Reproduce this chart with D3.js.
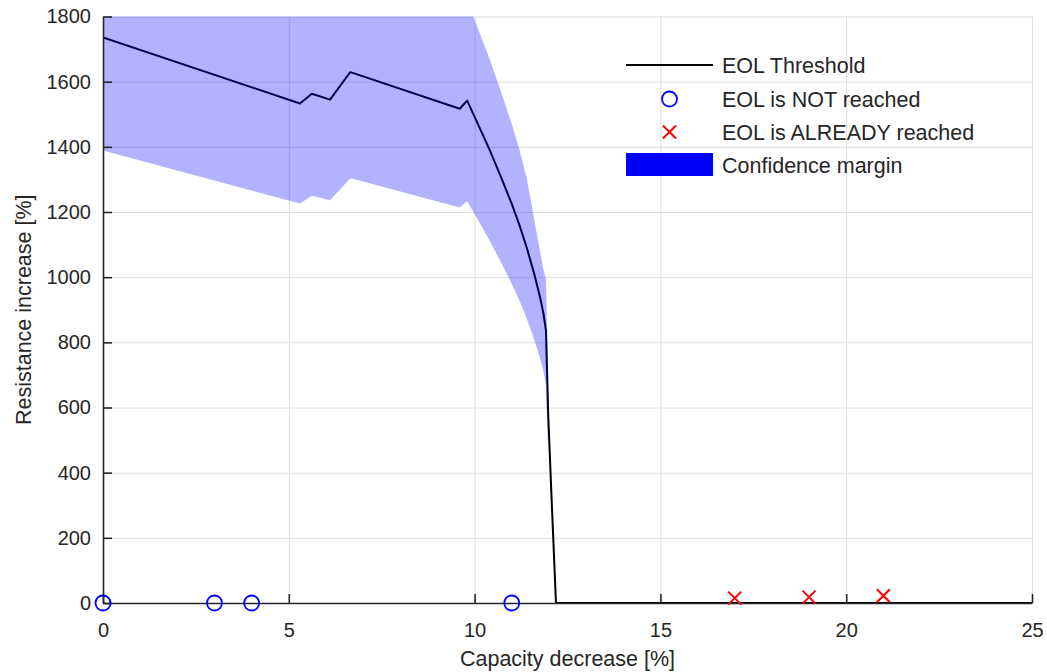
<!DOCTYPE html>
<html>
<head>
<meta charset="utf-8">
<script src="https://cdn.jsdelivr.net/npm/d3@7"></script>
<style>
  body { margin: 0; background: #fff; }
  svg { font-family: "Liberation Sans", Arial, Helvetica, sans-serif; }
</style>
</head>
<body>
<div id="chart"></div>
<script>
// EOL threshold curve
const capacity = [0, 5.3, 5.62, 6.11, 6.65, 6.72, 9.6, 9.8, 10.0, 10.2, 10.41, 10.7, 11.0, 11.2, 11.4, 11.6, 11.76, 11.85, 11.92, 11.98, 12.07, 12.19, 25];
const threshold = [1736, 1533, 1563, 1545, 1629, 1627, 1517, 1542, 1492, 1442, 1389, 1310, 1225, 1162, 1092, 1012, 939, 890, 837, 581, 325, 0, 0];

// confidence band
const bandX = [0, 5.3, 5.62, 6.11, 6.65, 6.72, 9.6, 9.8, 10.0, 10.2, 10.41, 10.7, 11.0, 11.2, 11.4, 11.6, 11.76, 11.85, 11.92, 11.98];
const bandLower = [1389, 1226, 1250, 1236, 1303, 1302, 1214, 1234, 1194, 1154, 1111, 1048, 980, 930, 874, 810, 751, 712, 670, 465];
const bandUpper = [2083, 1840, 1876, 1854, 1955, 1952, 1820, 1850, 1790, 1730, 1667, 1572, 1470, 1394, 1305, 1180, 1080, 1025, 995, 697];

// test points
const notReachedX = [0, 3, 4, 11];
const notReachedY = [0, 0, 0, 0];
const reachedX = [17, 19, 21];
const reachedY = [15, 18, 22];

const xTicks = [0, 5, 10, 15, 20, 25];
const yTicks = [0, 200, 400, 600, 800, 1000, 1200, 1400, 1600, 1800];

const legendLabels = ["EOL Threshold", "EOL is NOT reached", "EOL is ALREADY reached", "Confidence margin"];

const width = 1047, height = 672;
const margin = { top: 16.5, right: 15, bottom: 69, left: 103 };
const axisColor = "#262626";
const font = "'Liberation Sans', Arial, Helvetica, sans-serif";

const svg = d3.select("#chart").append("svg")
  .attr("width", width)
  .attr("height", height);

const x = d3.scaleLinear().domain([0, 25]).range([margin.left, width - margin.right]);
const y = d3.scaleLinear().domain([0, 1800]).range([height - margin.bottom, margin.top]);

svg.append("defs").append("clipPath").attr("id", "plot-clip")
  .append("rect")
  .attr("x", margin.left).attr("y", margin.top)
  .attr("width", x(25) - x(0)).attr("height", y(0) - y(1800));

// grid
svg.append("g")
  .attr("transform", `translate(0,${y(0)})`)
  .call(d3.axisBottom(x).tickValues(xTicks).tickSize(-(y(0) - y(1800))).tickFormat(""))
  .call(g => g.select(".domain").remove())
  .call(g => g.selectAll("line").attr("stroke", "#dedede").attr("stroke-width", 1));

svg.append("g")
  .attr("transform", `translate(${x(0)},0)`)
  .call(d3.axisLeft(y).tickValues(yTicks).tickSize(-(x(25) - x(0))).tickFormat(""))
  .call(g => g.select(".domain").remove())
  .call(g => g.selectAll("line").attr("stroke", "#dedede").attr("stroke-width", 1));

const plot = svg.append("g").attr("clip-path", "url(#plot-clip)");

// threshold line
const lineData = capacity.map((c, i) => [c, threshold[i]]);
plot.append("path")
  .datum(lineData)
  .attr("fill", "none")
  .attr("stroke", "#000")
  .attr("stroke-width", 2)
  .attr("stroke-linejoin", "round")
  .attr("d", d3.line().x(d => x(d[0])).y(d => y(d[1])));

// confidence band (drawn over line, semi-transparent)
const bandData = bandX.map((c, i) => ({ x: c, lo: bandLower[i], hi: bandUpper[i] }));
plot.append("path")
  .datum(bandData)
  .attr("fill", "#0000ff")
  .attr("fill-opacity", 0.3)
  .attr("d", d3.area().x(d => x(d.x)).y0(d => y(d.lo)).y1(d => y(d.hi)));

// axes
const xAxis = svg.append("g")
  .attr("transform", `translate(0,${y(0)})`)
  .call(d3.axisBottom(x).tickValues(xTicks).tickFormat(d3.format("d")).tickSize(-9).tickPadding(20).tickSizeOuter(0));
const yAxis = svg.append("g")
  .attr("transform", `translate(${x(0)},0)`)
  .call(d3.axisLeft(y).tickValues(yTicks).tickFormat(d3.format("d")).tickSize(-9).tickPadding(12).tickSizeOuter(0));

[xAxis, yAxis].forEach(g => {
  g.attr("font-family", font);
  g.select(".domain").attr("stroke", axisColor).attr("stroke-width", 1.6);
  g.selectAll(".tick line").attr("stroke", axisColor).attr("stroke-width", 1.6);
  g.selectAll(".tick text").attr("fill", axisColor).attr("font-size", 20);
});

// axis labels
svg.append("text")
  .attr("x", (x(0) + x(25)) / 2)
  .attr("y", 666)
  .attr("text-anchor", "middle")
  .attr("font-size", 21.5)
  .attr("fill", axisColor)
  .text("Capacity decrease [%]");

svg.append("text")
  .attr("transform", `translate(31,${(y(0) + y(1800)) / 2}) rotate(-90)`)
  .attr("text-anchor", "middle")
  .attr("font-size", 21.5)
  .attr("fill", axisColor)
  .text("Resistance increase [%]");

// markers
svg.append("g").selectAll("circle")
  .data(notReachedX.map((v, i) => [v, notReachedY[i]]))
  .enter().append("circle")
  .attr("cx", d => x(d[0]))
  .attr("cy", d => y(d[1]))
  .attr("r", 7.5)
  .attr("fill", "none")
  .attr("stroke", "#0000ff")
  .attr("stroke-width", 1.8);

const cross = 6.5;
const crossPath = (cx, cy) =>
  `M${cx - cross},${cy - cross}L${cx + cross},${cy + cross}M${cx - cross},${cy + cross}L${cx + cross},${cy - cross}`;

svg.append("g").selectAll("path")
  .data(reachedX.map((v, i) => [v, reachedY[i]]))
  .enter().append("path")
  .attr("d", d => crossPath(x(d[0]), y(d[1])))
  .attr("stroke", "#ff0000")
  .attr("stroke-width", 2)
  .attr("fill", "none");

// legend
const legend = svg.append("g").attr("font-size", 21.5);
const rowY = [65, 99, 132, 164.5];
const symX0 = 626, symX1 = 713, textX = 722;
const symMid = (symX0 + symX1) / 2;

legend.append("line")
  .attr("x1", symX0).attr("x2", symX1)
  .attr("y1", rowY[0]).attr("y2", rowY[0])
  .attr("stroke", "#000").attr("stroke-width", 2);

legend.append("circle")
  .attr("cx", symMid).attr("cy", rowY[1])
  .attr("r", 7.5).attr("fill", "none")
  .attr("stroke", "#0000ff").attr("stroke-width", 1.8);

legend.append("path")
  .attr("d", crossPath(symMid, rowY[2]))
  .attr("stroke", "#ff0000").attr("stroke-width", 2);

legend.append("rect")
  .attr("x", symX0).attr("y", rowY[3] - 11.5)
  .attr("width", symX1 - symX0).attr("height", 23)
  .attr("fill", "#0000ff");

legend.selectAll("text.lbl")
  .data(legendLabels)
  .enter().append("text")
  .attr("class", "lbl")
  .attr("x", textX)
  .attr("y", (d, i) => rowY[i] + 8)
  .attr("fill", "#262626")
  .text(d => d);
</script>
</body>
</html>
